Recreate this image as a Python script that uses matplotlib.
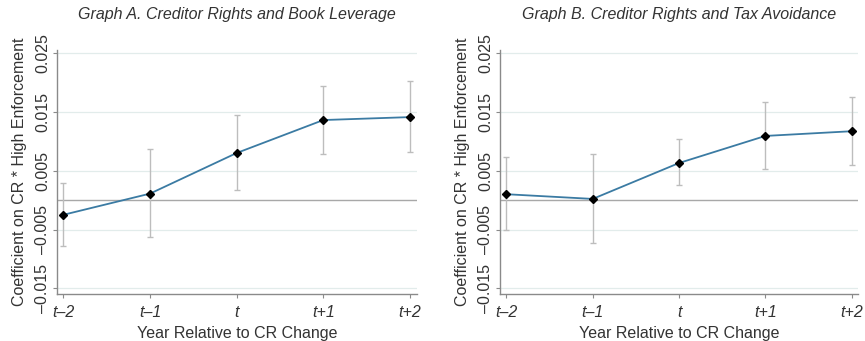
import matplotlib
matplotlib.use("Agg")
import matplotlib.pyplot as plt

plt.rcParams['font.family'] = ['Liberation Sans', 'DejaVu Sans']

periods = ["t\u20132", "t\u20131", "t", "t+1", "t+2"]
x_pos = [-2, -1, 0, 1, 2]
yticks = [-0.015, -0.005, 0.005, 0.015, 0.025]
ytick_labels = ["\u20130.015", "\u20130.005", "0.005", "0.015", "0.025"]

titles = ["Graph A. Creditor Rights and Book Leverage",
          "Graph B. Creditor Rights and Tax Avoidance"]

coef_a = [-0.0025, 0.0011, 0.0080, 0.0136, 0.0141]
lo_a = [-0.0078, -0.0063, 0.0018, 0.0079, 0.0081]
hi_a = [0.0029, 0.0086, 0.0144, 0.0193, 0.0202]

coef_b = [0.0010, 0.0002, 0.0063, 0.0109, 0.0117]
lo_b = [-0.0051, -0.0073, 0.0025, 0.0052, 0.0059]
hi_b = [0.0073, 0.0079, 0.0103, 0.0166, 0.0175]

fig = plt.figure(figsize=(8.65, 3.41), dpi=100)
positions = [[0.0662, 0.137, 0.4155, 0.7164], [0.5784, 0.137, 0.4139, 0.7164]]
data = [(coef_a, lo_a, hi_a), (coef_b, lo_b, hi_b)]

text_col = "#333333"
fs = 11.5
for i, (pos, (c, lo, hi)) in enumerate(zip(positions, data)):
    ax = fig.add_axes(pos)
    for yt in yticks:
        ax.axhline(yt, color="#e2eceb", lw=0.9, zorder=0)
    ax.axhline(0, color="#a8a8a8", lw=1.0, zorder=1)
    yerr = [[ci - l for ci, l in zip(c, lo)], [h - ci for ci, h in zip(c, hi)]]
    ax.errorbar(x_pos, c, yerr=yerr, fmt="none", ecolor="#bdbdbd", elinewidth=1.0,
                capsize=2.5, capthick=1.0, zorder=2)
    ax.plot(x_pos, c, color="#3b7ba3", lw=1.3, zorder=3)
    ax.plot(x_pos, c, linestyle="none", marker="D", color="black", markersize=4.5, zorder=4)
    ax.set_xlim(-2.07, 2.077)
    ax.set_ylim(-0.016, 0.0255)
    ax.set_xticks(x_pos)
    ax.set_xticklabels(periods, fontstyle="italic", fontsize=fs, color=text_col)
    ax.set_yticks(yticks)
    ax.set_yticklabels(ytick_labels, rotation=90, va="center", fontsize=fs, color=text_col)
    for s in ["top", "right"]:
        ax.spines[s].set_visible(False)
    for s in ["left", "bottom"]:
        ax.spines[s].set_color("#8a8a8a")
        ax.spines[s].set_linewidth(1.0)
    ax.tick_params(axis="both", direction="out", length=3, color="#8a8a8a")
    ax.tick_params(axis="x", pad=5)
    ax.tick_params(axis="y", pad=2)
    ax.set_xlabel("Year Relative to CR Change", fontsize=fs, color=text_col, labelpad=4)
    ax.set_ylabel("Coefficient on CR * High Enforcement", fontsize=fs, color=text_col, labelpad=6)
    ax.set_title(titles[i], fontstyle="italic", fontsize=fs, color=text_col, pad=22)

fig.savefig("out.png", dpi=100)
